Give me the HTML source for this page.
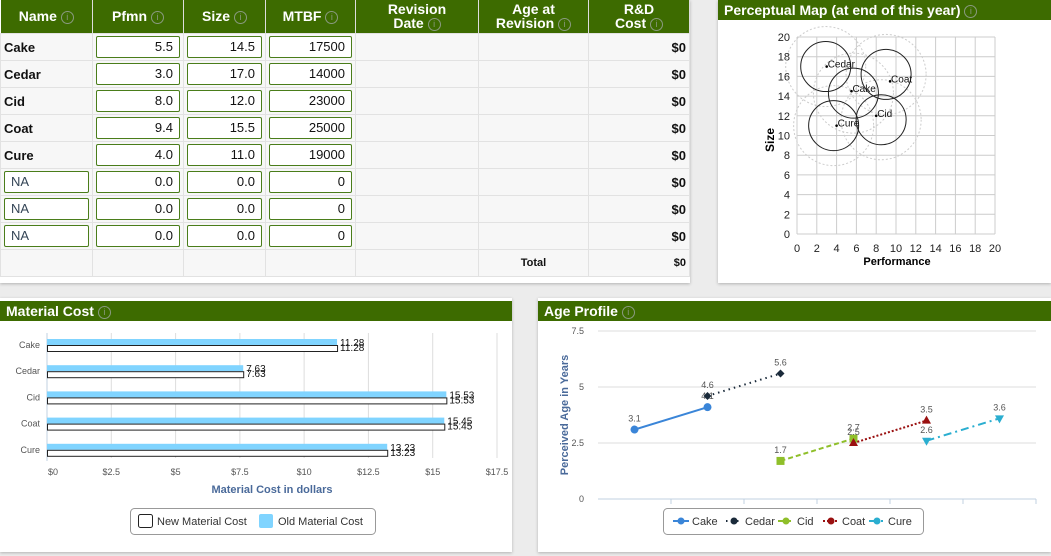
<!DOCTYPE html>
<html><head><meta charset="utf-8">
<style>
body{margin:0;width:1051px;height:556px;background:#ececec;font-family:"Liberation Sans",sans-serif;position:relative;overflow:hidden}
.panel{position:absolute;background:#fff;box-shadow:0 1px 3px rgba(0,0,0,.25)}
.hdr{background:#3d6b00;color:#fff;font-weight:bold;font-size:14px;height:20px;line-height:20px;padding-left:6px}
.i{display:inline-block;width:11px;height:11px;border:1px solid #8a9a80;border-radius:50%;color:#8a9a80;font-size:9px;line-height:11px;text-align:center;font-weight:normal;vertical-align:middle}
table{border-collapse:collapse;position:absolute;left:0;top:0;width:689px;font-size:13px;table-layout:fixed}
th{background:#3d6b00;color:#fff;font-size:14px;height:33px;padding:0;line-height:14px;border-right:1px solid #ddd}
td{background:#f7f7f7;border:1px solid #e2e2e2;height:27px;padding:0 3px;font-weight:bold;color:#111;box-sizing:border-box}
.inp{border:1px solid #4a7d1a;border-radius:2px;background:#fff;height:20px;line-height:20px;text-align:right;padding-right:6px;font-weight:normal;font-size:13px}
.na{text-align:left;padding-left:6px;color:#345}
</style></head><body>
<div class="panel" style="left:0;top:0;width:690px;height:283px">
<table>
<colgroup><col style="width:92px"><col style="width:91px"><col style="width:82px"><col style="width:90px"><col style="width:123px"><col style="width:110px"><col style="width:101px"></colgroup>
<tr><th>Name <span class="i">i</span></th><th>Pfmn <span class="i">i</span></th><th>Size <span class="i">i</span></th><th>MTBF <span class="i">i</span></th><th>Revision<br>Date <span class="i">i</span></th><th>Age at<br>Revision <span class="i">i</span></th><th>R&amp;D<br>Cost <span class="i">i</span></th></tr>
<tbody id="tb"></tbody>
<tr><td></td><td></td><td></td><td></td><td></td><td style="text-align:center;font-size:11px">Total</td><td style="text-align:right;font-size:11px">$0</td></tr>
</table></div>

<div class="panel" style="left:718px;top:0;width:333px;height:283px">
<div class="hdr">Perceptual Map (at end of this year) <span class="i">i</span></div>
<svg id="pm" width="333" height="263" style="position:absolute;left:0;top:0;overflow:visible"></svg></div>

<div class="panel" style="left:0;top:298px;width:512px;height:254px">
<div class="hdr" style="margin-top:3px">Material Cost <span class="i">i</span></div>
<svg id="mc" width="512" height="254" style="position:absolute;left:0;top:0"></svg></div>

<div class="panel" style="left:538px;top:298px;width:513px;height:254px">
<div class="hdr" style="margin-top:3px">Age Profile <span class="i">i</span></div>
<svg id="ap" width="513" height="254" style="position:absolute;left:0;top:0"></svg></div>

<script>
const names=["Cake","Cedar","Cid","Coat","Cure","NA","NA","NA"];
const pfmn=["5.5","3.0","8.0","9.4","4.0","0.0","0.0","0.0"];
const sizes=["14.5","17.0","12.0","15.5","11.0","0.0","0.0","0.0"];
const mtbf=["17500","14000","23000","25000","19000","0","0","0"];
const tb=document.getElementById('tb');
names.forEach((n,i)=>{
 const tr=document.createElement('tr');
 const na=i>=5;
 tr.innerHTML=(na?`<td><div class="inp na">${n}</div></td>`:`<td>${n}</td>`)+
 `<td><div class="inp">${pfmn[i]}</div></td><td><div class="inp">${sizes[i]}</div></td><td><div class="inp">${mtbf[i]}</div></td><td></td><td></td><td style="text-align:right">$0</td>`;
 
 
 tb.appendChild(tr);
});
const NS="http://www.w3.org/2000/svg";
function mk(svg,tag,at,txt){const e=document.createElementNS(NS,tag);for(const k in at)e.setAttribute(k,at[k]);if(txt!==undefined)e.textContent=txt;svg.appendChild(e);return e;}

// Perceptual map
const pmNames=["Cedar","Coat","Cake","Cid","Cure"];
const pmPerf=[3.0,9.4,5.5,8.0,4.0];
const pmSize=[17.0,15.5,14.5,12.0,11.0];
const pmIdealX=[2.9,9.0,5.7,8.5,3.7];
const pmIdealY=[17.0,16.2,14.3,11.6,11.0];
const pmTicks=[0,2,4,6,8,10,12,14,16,18,20];
const pm=document.getElementById('pm');
const px=v=>79+v*9.9, py=v=>234-v*9.85;
pmTicks.forEach(t=>{
 let g=mk(pm,'line',{x1:px(t),x2:px(t),y1:py(0),y2:py(20),stroke:'#ccc'});
 g=mk(pm,'line',{x1:px(0),x2:px(20),y1:py(t),y2:py(t),stroke:'#ccc'});
 let l=mk(pm,'text',{x:px(t),y:252,'font-size':11,'text-anchor':'middle',fill:'#222'},t);
 l=mk(pm,'text',{x:72,y:py(t)+4,'font-size':11,'text-anchor':'end',fill:'#222'},t);
});
pmNames.forEach((n,i)=>{
 let c=mk(pm,'circle',{cx:px(pmIdealX[i]),cy:py(pmIdealY[i]),r:40,fill:'none',stroke:'#ccc','stroke-dasharray':'2,2'});
});
pmNames.forEach((n,i)=>{
 let c=mk(pm,'circle',{cx:px(pmIdealX[i]),cy:py(pmIdealY[i]),r:25,fill:'none',stroke:'#222'});
 let d=mk(pm,'circle',{cx:px(pmPerf[i]),cy:py(pmSize[i]),r:1.3,fill:'#000'});
 let t=mk(pm,'text',{x:px(pmPerf[i])+1,y:py(pmSize[i])+1,'font-size':10,fill:'#111'},n);
});
let tt=mk(pm,'text',{x:179,y:265,'font-size':11,'font-weight':'bold','text-anchor':'middle'},'Performance');
tt=mk(pm,'text',{x:0,y:0,'font-size':12,'font-weight':'bold','text-anchor':'middle',transform:'translate(56,140) rotate(-90)'},'Size');

// Material cost
const mcCats=["Cake","Cedar","Cid","Coat","Cure"];
const mcOld=[11.28,7.63,15.53,15.45,13.23];
const mcNew=[11.28,7.63,15.53,15.45,13.23];
const mcTicks=[0,2.5,5,7.5,10,12.5,15,17.5];
const mc=document.getElementById('mc');
const mx=v=>47+v*(450/17.5);
const mcy=i=>47+i*26.2;
mcTicks.forEach(t=>{
 if(t>0){let g=mk(mc,'line',{x1:mx(t),x2:mx(t),y1:35,y2:160,stroke:'#ddd'});}
 let l=mk(mc,'text',{x:mx(t)+(t==0?6:0),y:177,'font-size':9,'text-anchor':'middle',fill:'#555'},'$'+t);
});
mk(mc,'line',{x1:47,x2:47,y1:35,y2:163,stroke:'#c0d0e0'});
mcCats.forEach((c,i)=>{
 const y=mcy(i);
 let l=mk(mc,'text',{x:40,y:y+3,'font-size':9,'text-anchor':'end',fill:'#555'},c);
 let b=mk(mc,'rect',{x:47,y:y-6,width:mx(mcOld[i])-47,height:6,fill:'#80d4ff'});
 b=mk(mc,'rect',{x:47.5,y:y+0.5,width:mx(mcNew[i])-47,height:6,fill:'#fff',stroke:'#222'});
 l=mk(mc,'text',{x:mx(mcOld[i])+3,y:y+1,'font-size':10,fill:'#111'},mcOld[i].toFixed(2));
 l=mk(mc,'text',{x:mx(mcNew[i])+3,y:y+6,'font-size':10,fill:'#111'},mcNew[i].toFixed(2));
});
tt=mk(mc,'text',{x:272,y:195,'font-size':11,'font-weight':'bold','text-anchor':'middle',fill:'#4a6a9a'},'Material Cost in dollars');
let lg=mk(mc,'rect',{x:130.5,y:210.5,width:245,height:26,rx:4,fill:'#fff',stroke:'#999'});
mk(mc,'rect',{x:138.5,y:216.5,width:14,height:13,rx:2,fill:'#fff',stroke:'#222'});
lg=mk(mc,'text',{x:157,y:227,'font-size':11,fill:'#333'},'New Material Cost');
mk(mc,'rect',{x:259,y:216,width:14,height:14,rx:2,fill:'#80d4ff'});
lg=mk(mc,'text',{x:278,y:227,'font-size':11,fill:'#333'},'Old Material Cost');

// Age profile
const apNames=["Cake","Cedar","Cid","Coat","Cure"];
const apX=[[0,1],[1,2],[2,3],[3,4],[4,5]];
const apY=[[3.1,4.1],[4.6,5.6],[1.7,2.7],[2.5,3.5],[2.6,3.6]];
const apTicks=[0,2.5,5,7.5];
const apColors=["#3a85d8","#1a2a3a","#8fbf2a","#9a1010","#2aaed0"];
const apDash=["","1.5,4","5,3","2,2","8,4,2,4"];
const ap=document.getElementById('ap');
const ax=i=>60+(i+0.5)*73, ay=v=>201-v*22.4;
apTicks.forEach(t=>{
 let g=mk(ap,'line',{x1:60,x2:498,y1:ay(t),y2:ay(t),stroke:t==0?'#c0d0e0':'#ddd','stroke-width':1});
 let l=mk(ap,'text',{x:46,y:ay(t)+3,'font-size':9,'text-anchor':'end',fill:'#555'},t);
});
for(let k=1;k<=6;k++)mk(ap,'line',{x1:60+k*73,x2:60+k*73,y1:ay(0),y2:ay(0)+5,stroke:'#c0d0e0'});
apNames.forEach((n,s)=>{
 const pts=apX[s].map((x,j)=>[ax(x),ay(apY[s][j])]);
 let ln=mk(ap,'polyline',{points:pts.map(p=>p.join(',')).join(' '),fill:'none',stroke:apColors[s],'stroke-width':2,'stroke-dasharray':apDash[s]});
 pts.forEach((p,j)=>{
  let m;const [x,y]=p,c=apColors[s];
  if(s==0)m=mk(ap,'circle',{cx:x,cy:y,r:4,fill:c});
  else if(s==1)m=mk(ap,'path',{d:`M${x},${y-4}L${x+4},${y}L${x},${y+4}L${x-4},${y}Z`,fill:c});
  else if(s==2)m=mk(ap,'rect',{x:x-4,y:y-4,width:8,height:8,fill:c});
  else if(s==3)m=mk(ap,'path',{d:`M${x},${y-5}L${x+4.5},${y+3}L${x-4.5},${y+3}Z`,fill:c});
  else m=mk(ap,'path',{d:`M${x},${y+5}L${x+4.5},${y-3}L${x-4.5},${y-3}Z`,fill:c});
  
  
  let l=mk(ap,'text',{x:x,y:y-8,'font-size':9,'text-anchor':'middle',fill:'#555'},apY[s][j].toFixed(1));
 });
});
tt=mk(ap,'text',{x:0,y:0,'font-size':11,'font-weight':'bold','text-anchor':'middle',fill:'#4a6a9a',transform:'translate(30,117) rotate(-90)'},'Perceived Age in Years');
lg=mk(ap,'rect',{x:125.5,y:210.5,width:260,height:26,rx:4,fill:'#fff',stroke:'#999'});
const lgX=[135,188,240,285,331];
apNames.forEach((n,s)=>{
 const x=lgX[s];
 mk(ap,'line',{x1:x,x2:x+16,y1:223,y2:223,stroke:apColors[s],'stroke-width':2,'stroke-dasharray':apDash[s]});
 mk(ap,'circle',{cx:x+8,cy:223,r:3.5,fill:apColors[s]});
 let l=mk(ap,'text',{x:x+19,y:227,'font-size':11,fill:'#333'},n);
});
</script>
</body></html>
